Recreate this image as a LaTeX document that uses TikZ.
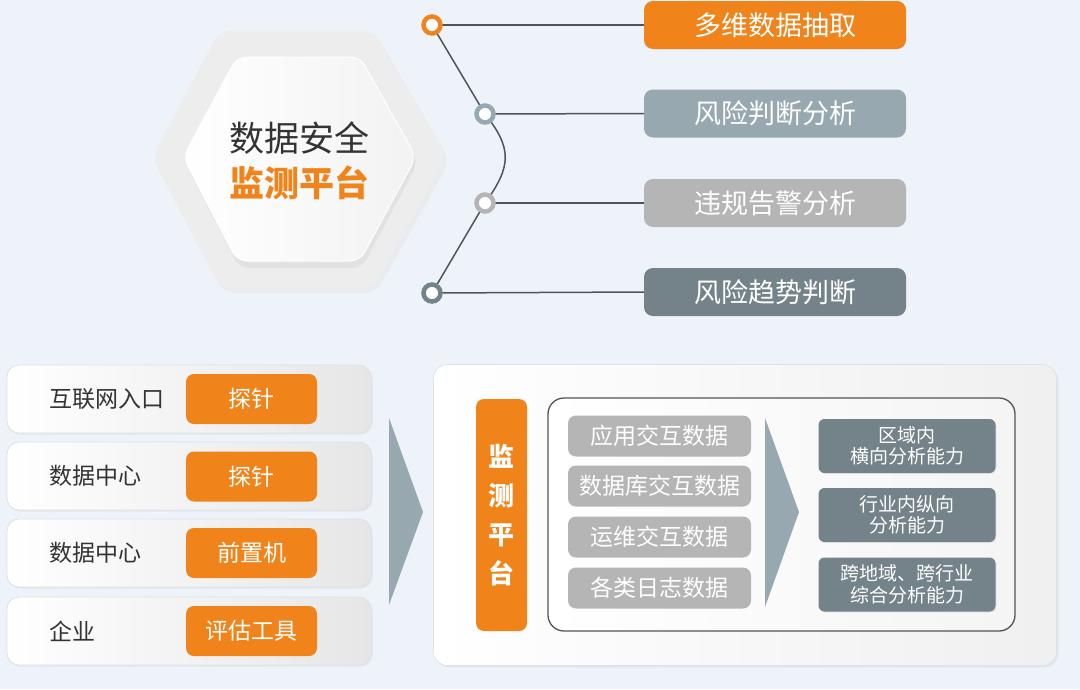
\documentclass[tikz,border=0pt]{standalone}
\usepackage{fontspec}
\setmainfont{Noto Sans CJK SC}
\usetikzlibrary{shadows}
\definecolor{bg}{HTML}{EEF3FA}
\definecolor{org}{HTML}{F0841B}
\definecolor{blg}{HTML}{97A8B0}
\definecolor{lg}{HTML}{B5B5B5}
\definecolor{dg}{HTML}{74828A}
\definecolor{ln}{HTML}{4D555B}
\definecolor{txt}{HTML}{333333}
\definecolor{rowg}{HTML}{E6E6E6}
\definecolor{rowline}{HTML}{DDE1E6}
\pgfdeclarelayer{back}
\pgfdeclarelayer{mid}
\pgfsetlayers{back,mid,main}
\begin{document}
\begin{tikzpicture}[x=1pt,y=-1pt,
  tagbox/.style={rounded corners=9pt, minimum width=262pt, minimum height=48pt, text=white, font=\fontsize{27}{30}\selectfont, inner sep=0pt},
  ring/.style={circle, draw=#1, line width=4.5pt, fill=white, minimum size=17pt, inner sep=0pt},
  link/.style={draw=ln, line width=1.5pt},
  rowbox/.style={rounded corners=12pt, left color=white, right color=rowg, draw=rowline, line width=0.8pt, minimum width=364pt, minimum height=68pt, inner sep=0pt, drop shadow={opacity=0.10, shadow xshift=1.5pt, shadow yshift=-1.5pt}},
  rowlabel/.style={anchor=west, text=txt, font=\fontsize{23}{26}\selectfont, inner sep=0pt},
  probe/.style={rounded corners=8pt, fill=org, minimum width=131pt, minimum height=50pt, text=white, font=\fontsize{23}{26}\selectfont, inner sep=0pt},
  databox/.style={rounded corners=8pt, fill=lg, minimum width=183pt, minimum height=41pt, text=white, font=\fontsize{23}{26}\selectfont, inner sep=0pt},
  capbox/.style={rounded corners=6pt, fill=dg, minimum width=177pt, minimum height=54pt, text=white, font=\fontsize{19}{21.5}\selectfont, align=center, inner sep=0pt, drop shadow={opacity=0.12, shadow xshift=1pt, shadow yshift=-1pt}}
]
\begin{pgfonlayer}{back}
\fill[bg] (0,0) rectangle (1080,689);
\end{pgfonlayer}
\useasboundingbox (0,0) rectangle (1080,689);

% hexagons
\fill[rounded corners=12pt, fill=black!10, opacity=0.5] (155,161) -- (223,34) -- (376,34) -- (450,161) -- (376,293) -- (223,293) -- cycle;
\fill[rounded corners=12pt, fill=black!7] (152,157) -- (220,30) -- (373,30) -- (447,157) -- (373,288) -- (220,288) -- cycle;
\fill[rounded corners=10pt, fill=black!14, opacity=0.6] (185,163) -- (239,63) -- (362,63) -- (418,163) -- (362,268) -- (239,268) -- cycle;
\shade[rounded corners=10pt, left color=white, right color=black!5, draw=white, line width=1pt] (183,157) -- (237,57) -- (360,57) -- (416,157) -- (360,261) -- (237,261) -- cycle;
\node[text=txt, font=\fontsize{35}{38}\selectfont, inner sep=0pt] (h1) at (299,138) {数据安全};
\node[text=org, font=\fontsize{35}{38}\selectfont\bfseries, inner sep=0pt] (h2) at (299,183) {监测平台};

% right tags
\node[tagbox, fill=org] (t1) at (775,25) {多维数据抽取};
\node[tagbox, fill=blg] (t2) at (775,113.5) {风险判断分析};
\node[tagbox, fill=lg] (t3) at (775,203) {违规告警分析};
\node[tagbox, fill=dg] (t4) at (775,292) {风险趋势判断};

\node[ring=org] (c1) at (432,25) {};
\node[ring=blg] (c2) at (485,114) {};
\node[ring=lg] (c3) at (485,203) {};
\node[ring=dg] (c4) at (432,293) {};

\begin{pgfonlayer}{mid}
\draw[link] (c1.center) -- (t1.west);
\draw[link] (c2.center) -- (t2.west);
\draw[link] (c3.center) -- (t3.west);
\draw[link] (c4.center) -- (t4.west);
\draw[link] (c1.center) -- (c2.center);
\draw[link] (c2.center) .. controls (512,148) and (512,166) .. (c3.center);
\draw[link] (c3.center) -- (c4.center);
\end{pgfonlayer}

% left rows
\node[rowbox] (r1) at (189,399) {};
\node[rowbox] (r2) at (189,476) {};
\node[rowbox] (r3) at (189,553) {};
\node[rowbox] (r4) at (189,631) {};
\node[rowlabel] (l1) at (49,399) {互联网入口};
\node[rowlabel] (l2) at (49,476) {数据中心};
\node[rowlabel] (l3) at (49,553) {数据中心};
\node[rowlabel] (l4) at (49,631) {企业};
\node[probe] (p1) at (251.5,399) {探针};
\node[probe] (p2) at (251.5,476.5) {探针};
\node[probe] (p3) at (251.5,553) {前置机};
\node[probe] (p4) at (251.5,631) {评估工具};

% big arrow
\fill[blg] (389,418) -- (423,512) -- (389,605) -- cycle;

% right panel
\node[rounded corners=14pt, left color=white, right color=black!6, draw=rowline, line width=0.6pt, minimum width=623pt, minimum height=301pt, inner sep=0pt, drop shadow={opacity=0.10, shadow xshift=2pt, shadow yshift=-2pt}] (P) at (745,515) {};
\node[rounded corners=8pt, fill=org, minimum width=51pt, minimum height=232pt, text=white, align=center, font=\fontsize{26}{39}\selectfont\bfseries, inner sep=0pt] (mb) at (501.5,515) {监\\测\\平\\台};
\node[rounded corners=16pt, draw=ln, line width=1.3pt, left color=white, right color=black!4, minimum width=467pt, minimum height=233pt, inner sep=0pt] (ib) at (781.5,514.5) {};
\node[databox] (d1) at (659.5,436) {应用交互数据};
\node[databox] (d2) at (659.5,486) {数据库交互数据};
\node[databox] (d3) at (659.5,537) {运维交互数据};
\node[databox] (d4) at (659.5,588) {各类日志数据};
\fill[blg] (765,418) -- (799,512) -- (765,607) -- cycle;
\node[capbox] (k1) at (907,446) {区域内\\横向分析能力};
\node[capbox] (k2) at (907,515) {行业内纵向\\分析能力};
\node[capbox] (k3) at (907,584.5) {跨地域、跨行业\\综合分析能力};
\end{tikzpicture}
\end{document}
